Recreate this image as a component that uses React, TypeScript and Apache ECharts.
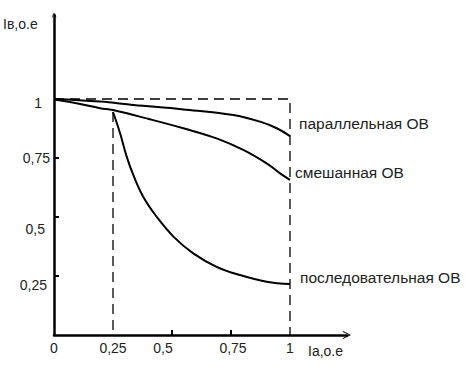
import React, { useEffect, useRef } from "react";
import * as echarts from "echarts";

const parallelX = [0, 0.195, 0.336, 0.548, 0.76, 0.873, 0.944, 1.0];
const parallelY = [1.0, 0.989, 0.975, 0.956, 0.932, 0.904, 0.876, 0.843];

const mixedX = [0, 0.1, 0.195, 0.25, 0.407, 0.548, 0.689, 0.802, 0.901, 0.958, 1.0];
const mixedY = [0.998, 0.981, 0.961, 0.953, 0.914, 0.876, 0.833, 0.784, 0.727, 0.685, 0.657];

const serialX = [0.25, 0.28, 0.308, 0.336, 0.378, 0.435, 0.506, 0.59, 0.689, 0.788, 0.901, 1.0];
const serialY = [0.945, 0.855, 0.756, 0.678, 0.586, 0.501, 0.417, 0.346, 0.289, 0.254, 0.226, 0.216];

const seriesNames = ["параллельная ОВ", "смешанная ОВ", "последовательная ОВ"];

const xTickValues = [0, 0.25, 0.5, 0.75, 1];
const xTickLabels = ["0", "0,25", "0,5", "0,75", "1"];
const yTickValues = [0.25, 0.5, 0.75, 1];
const yTickLabels = ["0,25", "0,5", "0,75", "1"];

const boundX = [0, 1, 1];
const boundY = [1, 1, 0];
const quarterX = [0.25, 0.25];
const quarterY = [0.945, 0];

const yAxisTitle = "Iв,о.е";
const xAxisTitle = "Iа,о.е";

const FONT = "'Liberation Sans', Arial, sans-serif";
const TEXT = "#222";
const CHEVRON = "path://M0,10 L5,0 L10,10 L8.6,10 L5,2.6 L1.4,10 Z";

const zip = (xs: number[], ys: number[]) => xs.map((x, i) => [x, ys[i]]);

export default function App() {
  const ref = useRef<HTMLDivElement>(null);
  useEffect(() => {
    if (!ref.current) return;
    const chart = echarts.init(ref.current, null, { renderer: "svg" });
    const xRich: Record<string, any> = {
      x0: { padding: [0, 0, 0, 0] },
      x1: { padding: [0, 0, 0, 0] },
      x2: { padding: [0, 18, 0, 0] },
      x3: { padding: [0, 0, 0, 4] },
      x4: { padding: [0, 0, 0, 0] },
    };
    const yRich: Record<string, any> = {
      y0: { padding: [17, 3, 0, 0] },
      y1: { padding: [24, 5, 0, 0] },
      y2: { padding: [0, 0, 0, 0] },
      y3: { padding: [8, 8, 0, 0] },
    };
    const curveStyle = { color: "#000", width: 2 };
    const dashStyle = { color: "#000", width: 1.3, type: [10, 6] as any };
    const endOffsets = [
      [9, -13],
      [5, -7],
      [10, -7],
    ];
    const curves = [
      zip(parallelX, parallelY),
      zip(mixedX, mixedY),
      zip(serialX, serialY),
    ];
    chart.setOption({
      animation: false,
      backgroundColor: "#fff",
      grid: { left: 54, top: 15, right: 121, bottom: 34, containLabel: false },
      xAxis: {
        type: "value",
        min: 0,
        max: 293 / 236,
        interval: 0.25,
        splitLine: { show: false },
        axisLine: {
          lineStyle: { color: "#000", width: 2.5 },
          symbol: ["none", CHEVRON],
          symbolSize: [8, 8],
        },
        axisTick: {
          show: true,
          inside: true,
          length: 5,
          lineStyle: { color: "#000", width: 2 },
          customValues: [0.5, 0.75],
        },
        axisLabel: {
          customValues: xTickValues,
          margin: 6,
          color: TEXT,
          fontFamily: FONT,
          fontSize: 14,
          rich: Object.fromEntries(
            Object.entries(xRich).map(([k, v]) => [k, { ...v, color: TEXT, fontFamily: FONT, fontSize: 14 }])
          ),
          formatter: (v: number) => {
            const i = xTickValues.findIndex((t) => Math.abs(t - v) < 1e-6);
            return i < 0 ? "" : `{x${i}|${xTickLabels[i]}}`;
          },
        },
      },
      yAxis: {
        type: "value",
        min: 0,
        max: 320 / 236,
        interval: 0.25,
        splitLine: { show: false },
        axisLine: {
          lineStyle: { color: "#000", width: 2.5 },
          symbol: ["none", CHEVRON],
          symbolSize: [5, 9],
        },
        axisTick: {
          show: true,
          inside: true,
          length: 5,
          lineStyle: { color: "#000", width: 2 },
          customValues: yTickValues,
        },
        axisLabel: {
          customValues: yTickValues,
          margin: 4,
          color: TEXT,
          fontFamily: FONT,
          fontSize: 14,
          rich: Object.fromEntries(
            Object.entries(yRich).map(([k, v]) => [k, { ...v, color: TEXT, fontFamily: FONT, fontSize: 14 }])
          ),
          formatter: (v: number) => {
            const i = yTickValues.findIndex((t) => Math.abs(t - v) < 1e-6);
            return i < 0 ? "" : `{y${i}|${yTickLabels[i]}}`;
          },
        },
      },
      graphic: [
        {
          type: "text",
          left: 3,
          top: 17,
          style: { text: yAxisTitle, fill: TEXT, font: `14px ${FONT}` },
        },
        {
          type: "text",
          left: 308,
          top: 344,
          style: { text: xAxisTitle, fill: TEXT, font: `14px ${FONT}` },
        },
      ],
      series: [
        ...curves.map((data, i) => ({
          type: "line",
          name: seriesNames[i],
          data,
          smooth: 0.4,
          showSymbol: false,
          symbol: "none",
          lineStyle: curveStyle,
          z: 3,
          endLabel: {
            show: true,
            formatter: seriesNames[i],
            distance: 0,
            offset: endOffsets[i],
            color: TEXT,
            fontFamily: FONT,
            fontSize: 15.5,
          },
        })),
        {
          type: "line",
          data: zip(boundX, boundY),
          showSymbol: false,
          symbol: "none",
          lineStyle: dashStyle,
          z: 2,
        },
        {
          type: "line",
          data: zip(quarterX, quarterY),
          showSymbol: false,
          symbol: "none",
          lineStyle: dashStyle,
          z: 2,
        },
      ],
    });
    return () => chart.dispose();
  }, []);
  return (
    <div
      ref={ref}
      style={{ position: "fixed", left: 0, top: 0, width: 468, height: 369, background: "#fff" }}
    />
  );
}
